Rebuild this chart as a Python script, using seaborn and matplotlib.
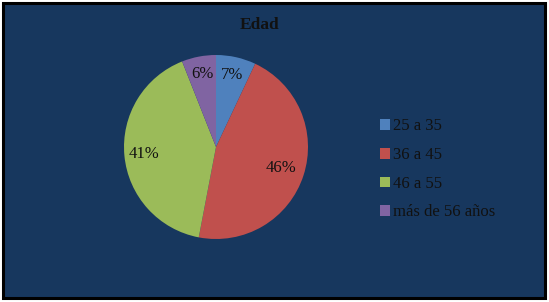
import numpy as np
import matplotlib
matplotlib.use("Agg")
import matplotlib.pyplot as plt
from matplotlib.patches import Rectangle
import seaborn as sns

# data
categories = ["25 a 35", "36 a 45", "46 a 55", "más de 56 años"]
values = [7, 46, 41, 6]
colors = ["#4F81BD", "#C0504D", "#9BBB59", "#8064A2"]
# where each percent label sits along the radius (Excel "best fit" look)
label_radius = [0.80, 0.74, 0.79, 0.81]
title = "Edad"

sns.set_theme(style="white")
plt.rcParams["font.family"] = ["Liberation Serif", "DejaVu Serif"]

bg = "#17375E"
fig = plt.figure(figsize=(5.49, 3.02), dpi=100, facecolor="white")
fig.patches.append(Rectangle((0.006, 0.012), 0.986, 0.978, transform=fig.transFigure,
                             facecolor=bg, edgecolor="black", linewidth=2.2, zorder=-10))

# pie axes: center (216,147) px, radius ~92 px
r_px = 92
w, h = 2.5 * r_px / 549, 2.5 * r_px / 302
cx, cy = 216 / 549, 1 - 147 / 302
ax = fig.add_axes([cx - w / 2, cy - h / 2, w, h])
ax.set_facecolor("none")

wedges, _ = ax.pie(values, colors=colors, startangle=90, counterclock=False,
                   wedgeprops=dict(linewidth=0))
ax.set_xlim(-1.25, 1.25)
ax.set_ylim(-1.25, 1.25)
ax.set_aspect("equal")
ax.axis("off")

for wdg, v, rr in zip(wedges, values, label_radius):
    ang = np.deg2rad((wdg.theta1 + wdg.theta2) / 2)
    ax.text(rr * np.cos(ang), rr * np.sin(ang), f"{v}%", ha="center", va="center",
            fontsize=12, color="#111111")

fig.text(260 / 549, 1 - 25 / 302, title, ha="center", va="center",
         fontsize=12.5, fontweight="bold", color="#111111")

leg = fig.legend(wedges, categories, loc="center left", bbox_to_anchor=(0.692, 0.439),
                 frameon=False, fontsize=12, handlelength=0.6, handleheight=0.6,
                 handletextpad=0.2, labelspacing=0.76, borderpad=0, borderaxespad=0)
for t in leg.get_texts():
    t.set_color("#111111")

fig.savefig("out.png", dpi=100, facecolor="white")
